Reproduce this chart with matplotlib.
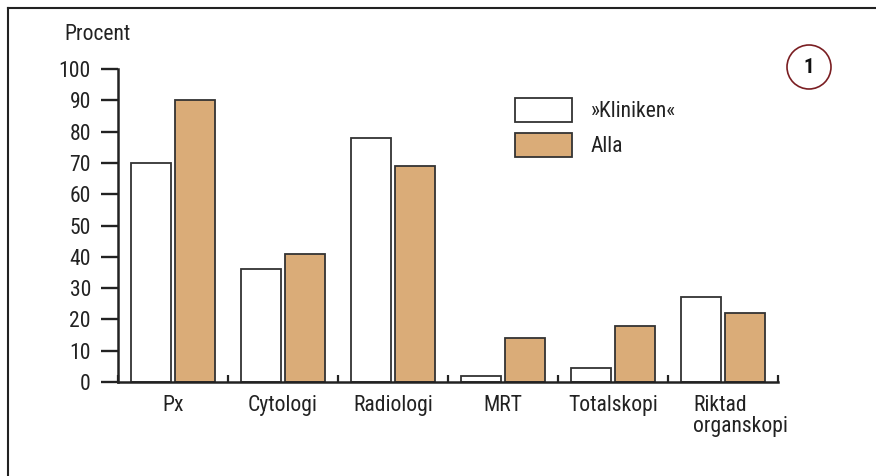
import matplotlib
matplotlib.use("Agg")
import matplotlib.pyplot as plt
from matplotlib.patches import Patch, Ellipse
from matplotlib.lines import Line2D

plt.rcParams['font.family'] = ['Roboto Condensed', 'Roboto', 'DejaVu Sans']

# data
categories = ['Px', 'Cytologi', 'Radiologi', 'MRT', 'Totalskopi', 'Riktad\norganskopi']
kliniken = [70, 36, 78, 2, 4.5, 27]
alla = [90, 41, 69, 14, 18, 22]
series_names = ['»Kliniken«', 'Alla']
yticks = [0, 10, 20, 30, 40, 50, 60, 70, 80, 90, 100]

txt = '#222222'
orange = '#DAAC78'
edge = '#333333'
fs = 15.6

W, H = 876, 476
fig = plt.figure(figsize=(W / 100, H / 100), dpi=100)
ax = fig.add_axes([118 / W, 1 - 382 / H, 660 / W, 313 / H])

x = list(range(len(categories)))
bw = 0.36
ax.bar([i - 0.2 for i in x], kliniken, bw, color='white', edgecolor=edge, linewidth=1.3)
ax.bar([i + 0.2 for i in x], alla, bw, color=orange, edgecolor=edge, linewidth=1.3)

ax.set_xlim(-0.5, len(categories) - 0.5)
ax.set_ylim(0, 100)
for s in ['top', 'right']:
    ax.spines[s].set_visible(False)
for s in ['left', 'bottom']:
    ax.spines[s].set_color(txt)
    ax.spines[s].set_linewidth(1.8)

ax.set_yticks(yticks)
ax.tick_params(axis='y', direction='out', length=12.5, width=1.7, color=txt,
               labelsize=fs, labelcolor=txt, pad=7)

# category boundaries as small inward ticks
ax.set_xticks([i - 0.5 for i in range(len(categories) + 1)])
ax.set_xticklabels([])
ax.tick_params(axis='x', direction='in', length=5, width=1.6, color=txt)

for i, c in enumerate(categories):
    if '\n' in c:
        ax.text(i - 0.27, -0.04, c, transform=ax.get_xaxis_transform(), ha='left', va='top',
                fontsize=fs, color=txt, linespacing=1.05)
    else:
        ax.text(i, -0.04, c, transform=ax.get_xaxis_transform(), ha='center', va='top',
                fontsize=fs, color=txt)

fig.text(64 / W, 1 - 35 / H, 'Procent', ha='left', va='center', fontsize=fs, color=txt)

handles = [Patch(facecolor='white', edgecolor=edge, linewidth=1.3),
           Patch(facecolor=orange, edgecolor=edge, linewidth=1.3)]
leg = fig.legend(handles, series_names, loc='upper left',
                 bbox_to_anchor=(515 / W, 1 - 98 / H), frameon=False, fontsize=fs,
                 handlelength=2.65, handleheight=1.3, labelspacing=0.5,
                 handletextpad=0.85, borderpad=0, borderaxespad=0)
for t in leg.get_texts():
    t.set_color(txt)

# badge
fig.add_artist(Ellipse((809 / W, 1 - 67 / H), 44 / W, 44 / H, transform=fig.transFigure,
                       facecolor='none', edgecolor='#7A1E22', linewidth=1.2))
fig.text(809 / W, 1 - 68 / H, '1', ha='center', va='center', fontsize=15,
         fontweight='bold', color='#111111')

# frame lines
fig.add_artist(Line2D([8 / W, 8 / W], [0, 1 - 8 / H], transform=fig.transFigure, color=txt, lw=1.5))
fig.add_artist(Line2D([8 / W, 1], [1 - 8 / H, 1 - 8 / H], transform=fig.transFigure, color=txt, lw=1.5))

fig.savefig('out.png', dpi=100)
